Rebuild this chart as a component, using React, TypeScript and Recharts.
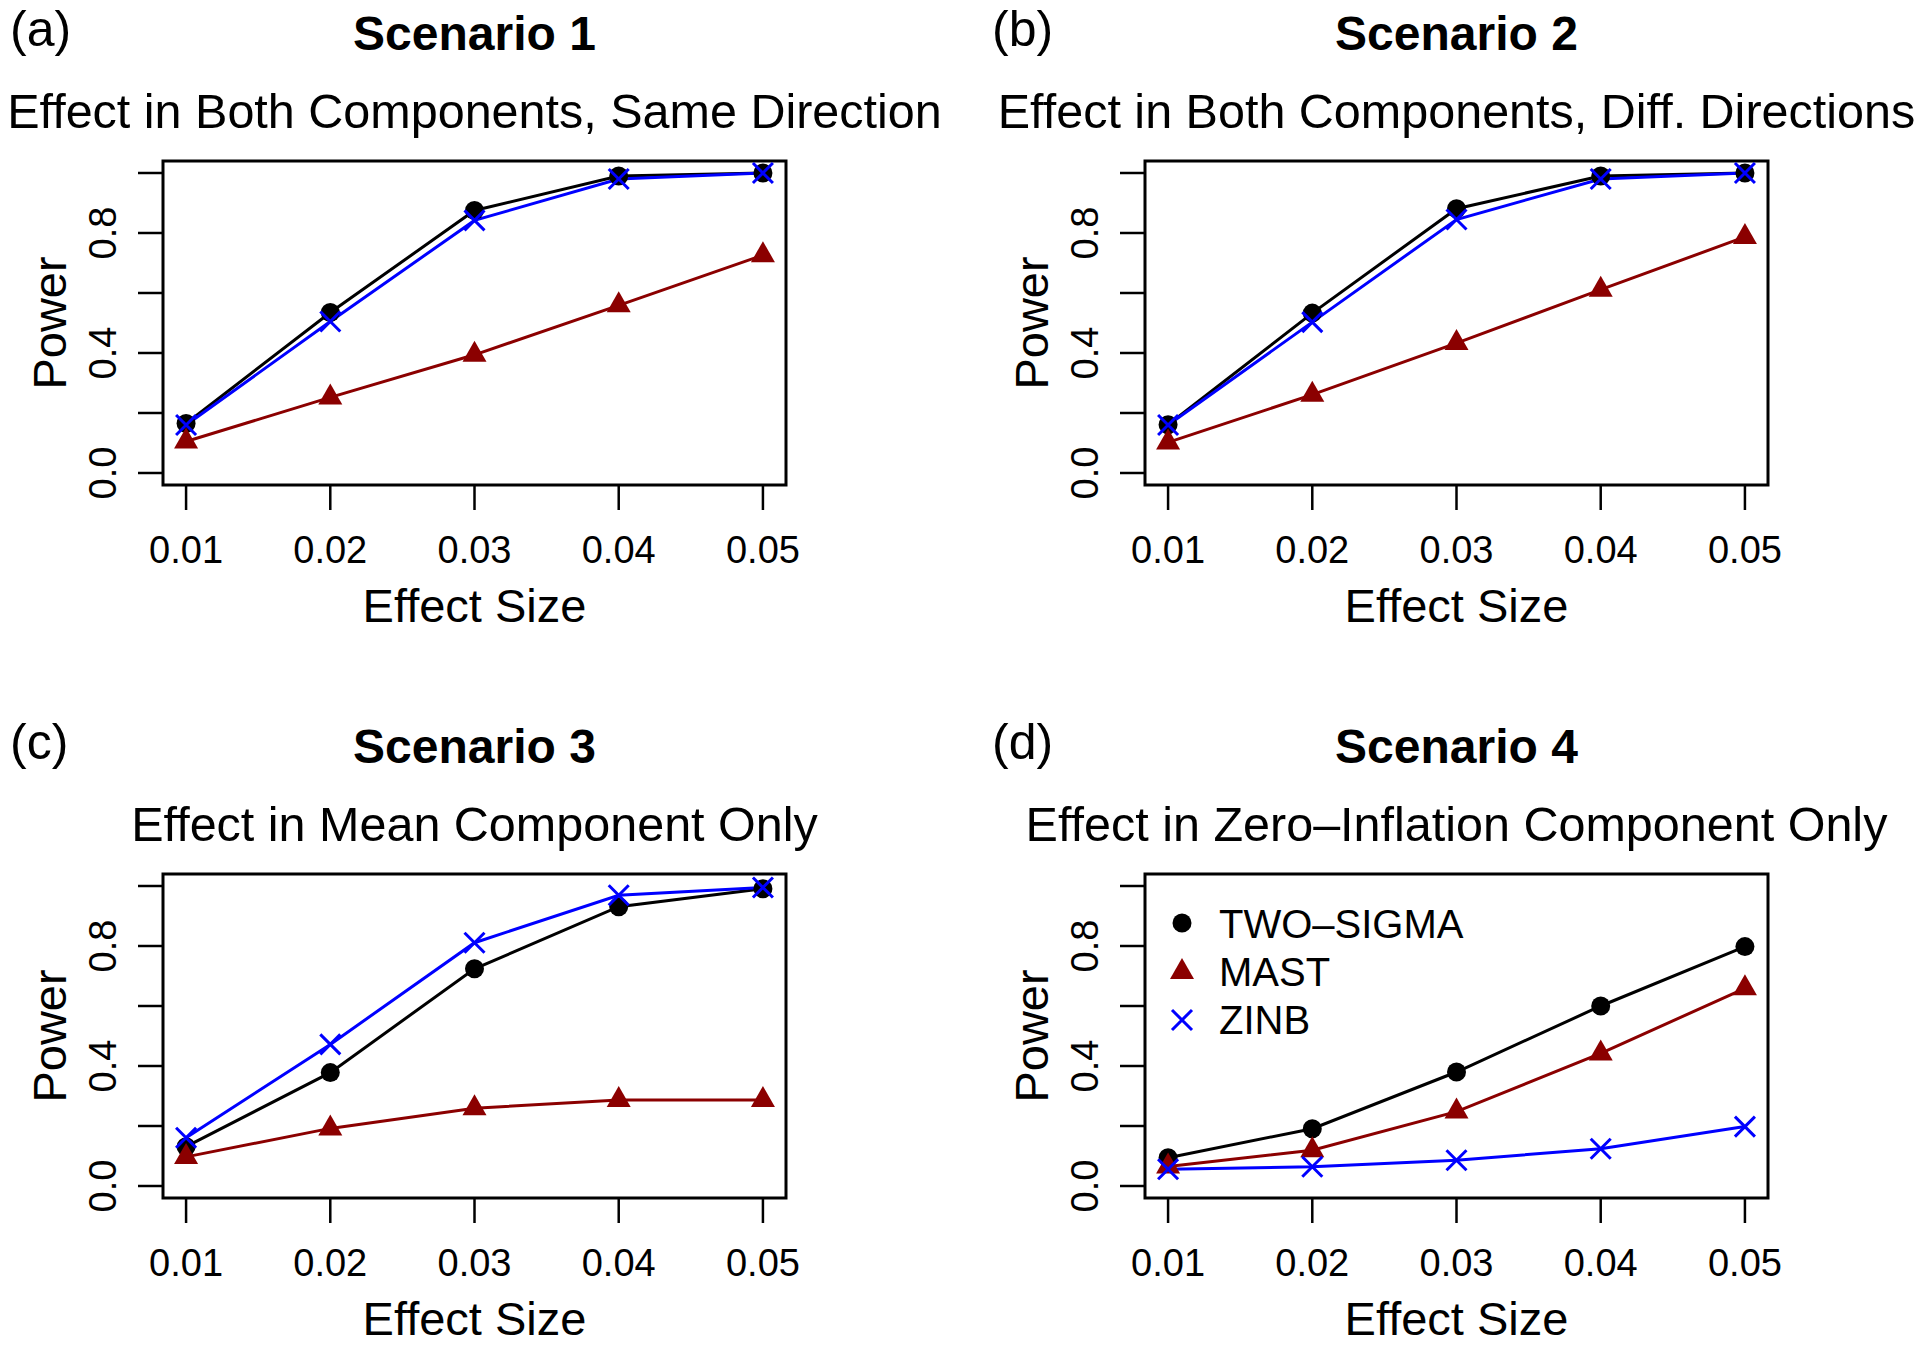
import { Legend, Line, LineChart, ReferenceArea, XAxis, YAxis } from 'recharts'

const FONT = '"Liberation Sans", Arial, Helvetica, sans-serif'

const effectSizes = [0.01, 0.02, 0.03, 0.04, 0.05]
const xTicks = [0.01, 0.02, 0.03, 0.04, 0.05]
const yTicks = [0, 0.2, 0.4, 0.6, 0.8, 1]
const yLabelled = [0, 0.4, 0.8]

const methods = ['TWO\u2013SIGMA', 'MAST', 'ZINB']

// scenario 1: both components, same direction
const s1TwoSigma = [0.165, 0.535, 0.875, 0.99, 1.0]
const s1Mast = [0.105, 0.252, 0.394, 0.559, 0.726]
const s1Zinb = [0.16, 0.505, 0.842, 0.98, 1.0]

// scenario 2: both components, diff. directions
const s2TwoSigma = [0.161, 0.533, 0.881, 0.99, 1.0]
const s2Mast = [0.102, 0.261, 0.433, 0.611, 0.787]
const s2Zinb = [0.16, 0.503, 0.845, 0.98, 1.0]

// scenario 3: mean component only
const s3TwoSigma = [0.131, 0.378, 0.724, 0.931, 0.991]
const s3Mast = [0.097, 0.192, 0.259, 0.287, 0.287]
const s3Zinb = [0.161, 0.472, 0.811, 0.969, 0.995]

// scenario 4: zero-inflation component only
const s4TwoSigma = [0.094, 0.191, 0.38, 0.6, 0.798]
const s4Mast = [0.065, 0.119, 0.248, 0.442, 0.659]
const s4Zinb = [0.056, 0.064, 0.086, 0.124, 0.198]

const buildRows = (two: number[], mast: number[], zinb: number[]) =>
  effectSizes.map((effect, i) => ({ effect, twoSigma: two[i], mast: mast[i], zinb: zinb[i] }))

const BLACK = '#000000'
const RED = '#8B0000'
const BLUE = '#0000FF'

const W = 960
const H = 714
const PLOT_LEFT = 163
const PLOT_RIGHT = 786
const PLOT_TOP = 161
const PLOT_BOTTOM = 485
const CX = (PLOT_LEFT + PLOT_RIGHT) / 2

const circleDot = (p: any) =>
  p.cx == null ? null : <circle key={`c${p.index}`} cx={p.cx} cy={p.cy} r={9.5} fill={BLACK} />

const triangleDot = (p: any) =>
  p.cx == null ? null : (
    <polygon
      key={`t${p.index}`}
      points={`${p.cx},${p.cy - 14} ${p.cx + 12},${p.cy + 7} ${p.cx - 12},${p.cy + 7}`}
      fill={RED}
    />
  )

const crossDot = (p: any) =>
  p.cx == null ? null : (
    <path
      key={`x${p.index}`}
      d={`M${p.cx - 10},${p.cy - 10}L${p.cx + 10},${p.cy + 10}M${p.cx - 10},${p.cy + 10}L${p.cx + 10},${p.cy - 10}`}
      stroke={BLUE}
      strokeWidth={3}
      fill="none"
    />
  )

const XTick = ({ x, payload }: any) => (
  <text x={x} y={563} textAnchor="middle" fontSize={38} fontFamily={FONT} fill={BLACK}>
    {Number(payload.value).toFixed(2)}
  </text>
)

const YTick = ({ y, payload }: any) => {
  const v = Number(payload.value)
  if (!yLabelled.some((t) => Math.abs(t - v) < 1e-9)) return <g />
  return (
    <text
      transform={`translate(116, ${y}) rotate(-90)`}
      textAnchor="middle"
      fontSize={38}
      fontFamily={FONT}
      fill={BLACK}
    >
      {v.toFixed(1)}
    </text>
  )
}

const LegendBox = () => {
  const markers = [
    <circle cx={20} cy={22} r={9.5} fill={BLACK} />,
    <polygon points="20,57 32,78 8,78" fill={RED} />,
    <path d="M10,109L30,129M10,129L30,109" stroke={BLUE} strokeWidth={3} />,
  ]
  return (
    <svg width={320} height={150}>
      {methods.map((m, i) => (
        <g key={m}>
          {markers[i]}
          <text x={57} y={37 + i * 48} fontSize={40} fontFamily={FONT} fill={BLACK}>
            {m}
          </text>
        </g>
      ))}
    </svg>
  )
}

interface PanelProps {
  left: number
  top: number
  tag: string
  title: string
  subtitle: string
  rows: ReturnType<typeof buildRows>
  legend?: boolean
}

const Panel = ({ left, top, tag, title, subtitle, rows, legend }: PanelProps) => (
  <div style={{ position: 'absolute', left, top, width: W, height: H }}>
    <LineChart
      width={W}
      height={H}
      data={rows}
      margin={{ top: PLOT_TOP, right: W - PLOT_RIGHT, bottom: H - PLOT_BOTTOM - 60, left: PLOT_LEFT - 60 }}
    >
      <XAxis
        dataKey="effect"
        type="number"
        domain={[0.0084, 0.0516]}
        ticks={xTicks}
        interval={0}
        height={60}
        axisLine={false}
        tickLine={{ stroke: BLACK, strokeWidth: 2.5 }}
        tickSize={25}
        tickMargin={0}
        tick={<XTick />}
        allowDataOverflow
      />
      <YAxis
        type="number"
        domain={[-0.04, 1.04]}
        ticks={yTicks}
        interval={0}
        width={60}
        axisLine={false}
        tickLine={{ stroke: BLACK, strokeWidth: 2.5 }}
        tickSize={25}
        tickMargin={0}
        tick={<YTick />}
        allowDataOverflow
      />
      <ReferenceArea
        x1={0.0084}
        x2={0.0516}
        y1={-0.04}
        y2={1.04}
        fill="none"
        fillOpacity={0}
        stroke={BLACK}
        strokeWidth={3}
        ifOverflow="visible"
      />
      <Line type="linear" dataKey="twoSigma" stroke={BLACK} strokeWidth={3} dot={circleDot} activeDot={false} isAnimationActive={false} />
      <Line type="linear" dataKey="mast" stroke={RED} strokeWidth={3} dot={triangleDot} activeDot={false} isAnimationActive={false} />
      <Line type="linear" dataKey="zinb" stroke={BLUE} strokeWidth={3} dot={crossDot} activeDot={false} isAnimationActive={false} />
      {legend && (
        <Legend
          layout="vertical"
          align="center"
          verticalAlign="middle"
          content={<LegendBox />}
          wrapperStyle={{ left: 180, top: 188, width: 320, height: 150 }}
        />
      )}
    </LineChart>
    <svg
      width={W}
      height={H}
      style={{ position: 'absolute', left: 0, top: 0, pointerEvents: 'none' }}
    >
      <text x={10} y={46} fontSize={50} fontFamily={FONT} fill={BLACK}>
        {tag}
      </text>
      <text x={CX} y={50} textAnchor="middle" fontSize={48} fontWeight="bold" fontFamily={FONT} fill={BLACK}>
        {title}
      </text>
      <text x={CX} y={128} textAnchor="middle" fontSize={48.5} fontFamily={FONT} fill={BLACK}>
        {subtitle}
      </text>
      <text x={CX} y={622} textAnchor="middle" fontSize={47} fontFamily={FONT} fill={BLACK}>
        Effect Size
      </text>
      <text
        transform={`translate(66, ${(PLOT_TOP + PLOT_BOTTOM) / 2}) rotate(-90)`}
        textAnchor="middle"
        fontSize={47}
        fontFamily={FONT}
        fill={BLACK}
      >
        Power
      </text>
    </svg>
  </div>
)

const App = () => (
  <div
    style={{
      position: 'absolute',
      left: 0,
      top: 0,
      width: 1920,
      height: 1346,
      overflow: 'hidden',
      background: '#ffffff',
    }}
  >
    <Panel
      left={0}
      top={0}
      tag="(a)"
      title="Scenario 1"
      subtitle="Effect in Both Components, Same Direction"
      rows={buildRows(s1TwoSigma, s1Mast, s1Zinb)}
    />
    <Panel
      left={982}
      top={0}
      tag="(b)"
      title="Scenario 2"
      subtitle="Effect in Both Components, Diff. Directions"
      rows={buildRows(s2TwoSigma, s2Mast, s2Zinb)}
    />
    <Panel
      left={0}
      top={713}
      tag="(c)"
      title="Scenario 3"
      subtitle="Effect in Mean Component Only"
      rows={buildRows(s3TwoSigma, s3Mast, s3Zinb)}
    />
    <Panel
      left={982}
      top={713}
      tag="(d)"
      title="Scenario 4"
      subtitle={'Effect in Zero\u2013Inflation Component Only'}
      rows={buildRows(s4TwoSigma, s4Mast, s4Zinb)}
      legend
    />
  </div>
)

export default App
